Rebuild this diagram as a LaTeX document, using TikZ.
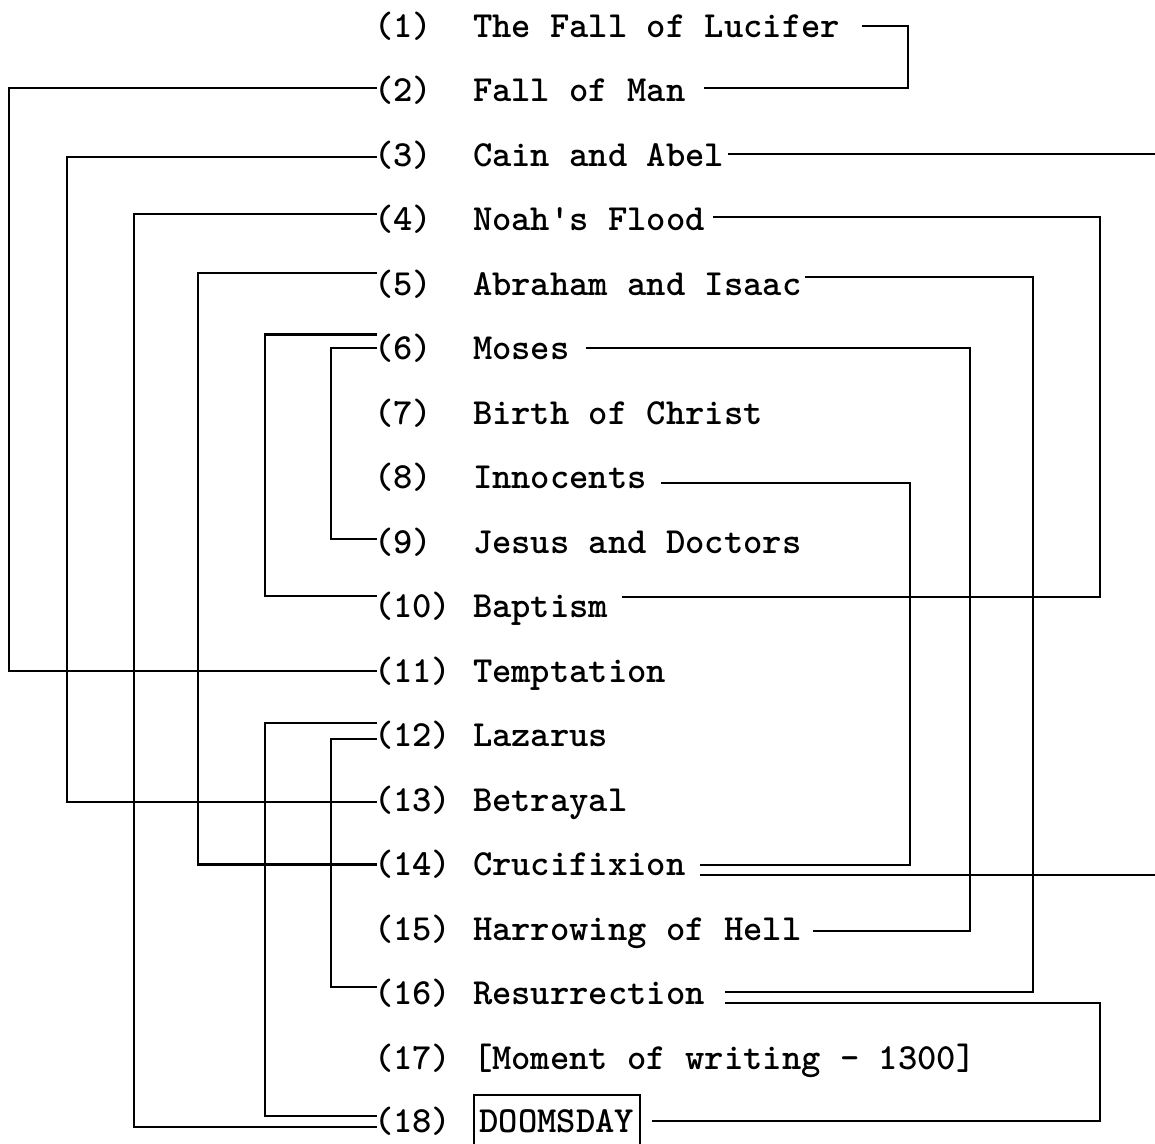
\documentclass[tikz,border=0pt]{standalone}
\usetikzlibrary{calc}
\begin{document}
\begin{tikzpicture}[x=1pt,y=-1pt]
\tikzset{
  lab/.style={anchor=base west, inner sep=0pt, outer sep=0pt, font=\ttfamily\bfseries\fontsize{36.8pt}{40pt}\selectfont},
  conn/.style={line width=2.2pt, line join=miter}
}
\useasboundingbox (0,0) rectangle (1155,1143);
\clip (0,0) rectangle (1155,1143);
% number column
\node[lab] (n1) at (374,37) {(1)};
\node[lab] (n2) at (374,101.5) {(2)};
\node[lab] (n3) at (374,166) {(3)};
\node[lab] (n4) at (374,230.5) {(4)};
\node[lab] (n5) at (374,295) {(5)};
\node[lab] (n6) at (374,359.5) {(6)};
\node[lab] (n7) at (374,424) {(7)};
\node[lab] (n8) at (374,488.5) {(8)};
\node[lab] (n9) at (374,553) {(9)};
\node[lab] (n10) at (374,617.5) {(10)};
\node[lab] (n11) at (374,682) {(11)};
\node[lab] (n12) at (374,746.5) {(12)};
\node[lab] (n13) at (374,811) {(13)};
\node[lab] (n14) at (374,875.5) {(14)};
\node[lab] (n15) at (374,940) {(15)};
\node[lab] (n16) at (374,1004.5) {(16)};
\node[lab] (n17) at (374,1069) {(17)};
\node[lab] (n18) at (374,1132) {(18)};
% text column
\node[lab] (t1) at (473,37) {The Fall of Lucifer};
\node[lab] (t2) at (473,101.5) {Fall of Man};
\node[lab] (t3) at (473,166) {Cain and Abel};
\node[lab] (t4) at (473,230.5) {Noah\textquotesingle s Flood};
\node[lab] (t5) at (473,295) {Abraham and Isaac};
\node[lab] (t6) at (473,359.5) {Moses};
\node[lab] (t7) at (473,424) {Birth of Christ};
\node[lab] (t8) at (473,488.5) {Innocents};
\node[lab] (t9) at (473,553) {Jesus and Doctors};
\node[lab] (t10) at (473,617.5) {Baptism};
\node[lab] (t11) at (473,682) {Temptation};
\node[lab] (t12) at (473,746.5) {Lazarus};
\node[lab] (t13) at (473,811) {Betrayal};
\node[lab] (t14) at (473,875.5) {Crucifixion};
\node[lab] (t15) at (473,940) {Harrowing of Hell};
\node[lab] (t16) at (473,1004.5) {Resurrection};
\node[lab] (t17) at (473,1069) {[Moment of writing - 1300]};
\node[lab, draw, line width=2pt, inner xsep=5.5pt, inner ysep=0pt, text height=37pt, text depth=30pt] (t18) at (474,1132) {DOOMSDAY};
% rails
\coordinate (L1) at (9,0);
\coordinate (L2) at (67,0);
\coordinate (L3) at (134,0);
\coordinate (L4) at (198,0);
\coordinate (L5) at (265,0);
\coordinate (L6) at (331,0);
\coordinate (R1) at (908,0);
\coordinate (R2) at (910,0);
\coordinate (R3) at (970,0);
\coordinate (R4) at (1033,0);
\coordinate (R5) at (1100,0);
\coordinate (E) at (1160,0);
% left ends
\coordinate (l2) at ($(n2.base west)+(3,-13.5)$);
\coordinate (l11) at ($(n11.base west)+(3,-11)$);
\coordinate (l3) at ($(n3.base west)+(3,-9)$);
\coordinate (l13) at ($(n13.base west)+(3,-9)$);
\coordinate (l4) at ($(n4.base west)+(3,-16.5)$);
\coordinate (l18b) at ($(n18.base west)+(3,-5)$);
\coordinate (l5) at ($(n5.base west)+(3,-22)$);
\coordinate (l14) at ($(n14.base west)+(3,-11)$);
\coordinate (l6a) at ($(n6.base west)+(3,-25)$);
\coordinate (l10) at ($(n10.base west)+(3,-21.5)$);
\coordinate (l6b) at ($(n6.base west)+(3,-11.5)$);
\coordinate (l9) at ($(n9.base west)+(3,-14)$);
\coordinate (l12a) at ($(n12.base west)+(3,-23.5)$);
\coordinate (l18a) at ($(n18.base west)+(3,-16)$);
\coordinate (l12b) at ($(n12.base west)+(3,-7.5)$);
\coordinate (l16) at ($(n16.base west)+(3,-17.5)$);
% right ends
\coordinate (r1) at ($(t1.base east)+(22,-11)$);
\coordinate (r2) at ($(t2.base east)+(18,-13.5)$);
\coordinate (r3) at ($(t3.base east)+(4,-12)$);
\coordinate (r4) at ($(t4.base east)+(8,-13.5)$);
\coordinate (r10) at ($(t10.base east)+(14,-20.5)$);
\coordinate (r5) at ($(t5.base east)+(4,-18)$);
\coordinate (r16a) at ($(t16.base east)+(20,-12.5)$);
\coordinate (r6) at ($(t6.base east)+(16,-11.5)$);
\coordinate (r15) at ($(t15.base east)+(12,-9)$);
\coordinate (r8) at ($(t8.base east)+(14,-5.5)$);
\coordinate (r14a) at ($(t14.base east)+(14,-10.5)$);
\coordinate (r14b) at ($(t14.base east)+(14,-0.5)$);
\coordinate (r16b) at ($(t16.base east)+(20,-1.5)$);
\coordinate (r18) at ($(t18.base east)+(12,-11)$);
% left connectors
\draw[conn] (l2) -| (L1 |- l11) -- (l11);
\draw[conn] (l3) -| (L2 |- l13) -- (l13);
\draw[conn] (l4) -| (L3 |- l18b) -- (l18b);
\draw[conn] (l5) -| (L4 |- l14) -- (l14);
\draw[conn] (l6a) -| (L5 |- l10) -- (l10);
\draw[conn] (l6b) -| (L6 |- l9) -- (l9);
\draw[conn] (l12a) -| (L5 |- l18a) -- (l18a);
\draw[conn] (l12b) -| (L6 |- l16) -- (l16);
% right connectors
\draw[conn] (r1) -| (R1 |- r2) -- (r2);
\draw[conn] (r3) -- (r3 -| E);
\draw[conn] (r4) -| (R5 |- r10) -- (r10);
\draw[conn] (r5) -| (R4 |- r16a) -- (r16a);
\draw[conn] (r6) -| (R3 |- r15) -- (r15);
\draw[conn] (r8) -| (R2 |- r14a) -- (r14a);
\draw[conn] (r14b) -- (r14b -| E);
\draw[conn] (r16b) -| (R5 |- r18) -- (r18);
\end{tikzpicture}
\end{document}
